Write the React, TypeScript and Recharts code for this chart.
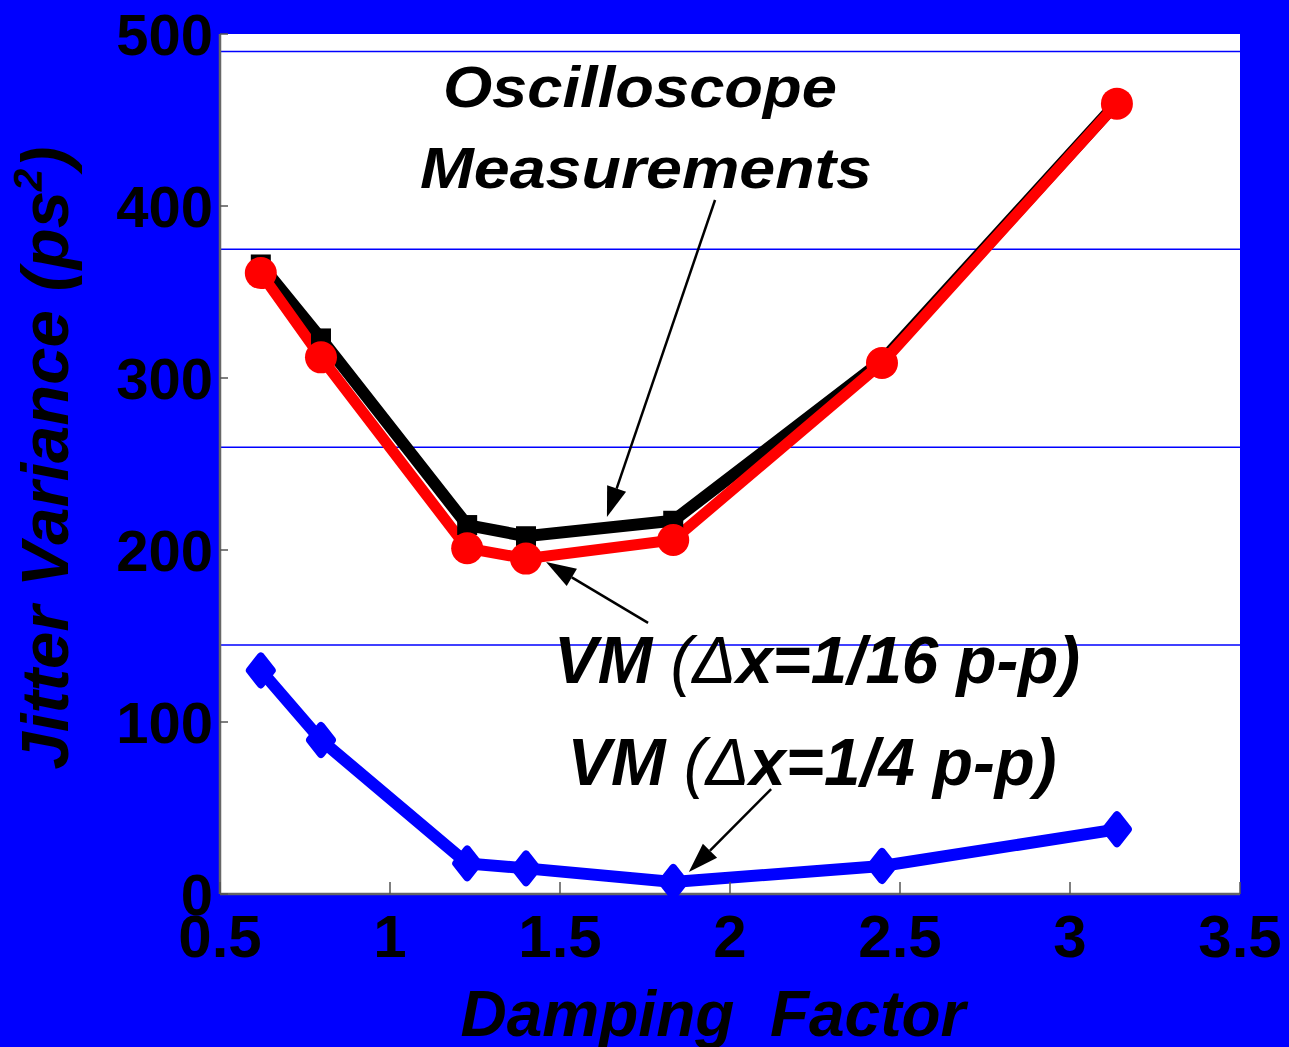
import React from "react";
import { LineChart, Line, XAxis, YAxis, CartesianGrid, ReferenceLine, ReferenceDot } from "recharts";

const dampingFactor = [0.62, 0.797, 1.227, 1.4, 1.833, 2.447, 3.138];
const oscilloscope = [366, 323, 214.5, 208, 217, 310, 460];
const vmFine = [361, 312, 201, 195, 205.8, 308.7, 459.5];
const vmCoarse = [130, 89.5, 17.8, 14.9, 7, 16.3, 37.6];

const xTicks = [0.5, 1, 1.5, 2, 2.5, 3, 3.5];
const yTicks = [0, 100, 200, 300, 400, 500];
const gridValues = [489.8, 374.8, 259.7, 144.8];

// annotation arrows, tail -> tip, in data units
const arrows = [
  { x1: 1.956, y1: 403.5, x2: 1.638, y2: 219.2 },
  { x1: 1.759, y1: 157.6, x2: 1.459, y2: 193.0 },
  { x1: 2.121, y1: 61.0, x2: 1.879, y2: 12.8 },
];

const notes = [
  { x: 1.735, y: 457.6, text: "Oscilloscope", size: 57, width: 394 },
  { x: 1.753, y: 410.5, text: "Measurements", size: 57, width: 452 },
  { x: 2.256, y: 122.7, text: "VM (\u0394x=1/16 p-p)", size: 66, width: 526 },
  { x: 2.241, y: 63.4, text: "VM (\u0394x=1/4 p-p)", size: 66, width: 489 },
];

const data = dampingFactor.map((x, i) => ({
  x,
  osc: oscilloscope[i],
  fine: vmFine[i],
  coarse: vmCoarse[i],
}));

const FONT = "'Liberation Sans', Arial, sans-serif";
const BLUE = "#0000ff";
const DELTA = "(\u0394";

function YTick(props: any) {
  const { x, y, payload } = props;
  const axisX = x + 7;
  return (
    <g>
      <line x1={axisX} y1={y} x2={axisX + 8} y2={y} stroke="#555" strokeWidth={1.5} />
      <text x={x} y={y} dy="0.36em" textAnchor="end" fontFamily={FONT} fontWeight="bold" fontSize={58} fill="#000">
        {payload.value}
      </text>
    </g>
  );
}

function XTick(props: any) {
  const { x, y, payload } = props;
  return (
    <g>
      <line x1={x} y1={y} x2={x} y2={y - 12} stroke="#555" strokeWidth={1.5} />
      <text x={x} y={y + 63} textAnchor="middle" fontFamily={FONT} fontWeight="bold" fontSize={60} fill="#000">
        {payload.value}
      </text>
    </g>
  );
}

function Arrow(props: any) {
  const { x1, y1, x2, y2 } = props;
  const ang = Math.atan2(y2 - y1, x2 - x1);
  const len = 30;
  const half = 10;
  const bx = x2 - len * Math.cos(ang);
  const by = y2 - len * Math.sin(ang);
  const px = -Math.sin(ang) * half;
  const py = Math.cos(ang) * half;
  return (
    <g>
      <line x1={x1} y1={y1} x2={bx} y2={by} stroke="#000" strokeWidth={2.5} />
      <polygon points={`${x2},${y2} ${bx + px},${by + py} ${bx - px},${by - py}`} fill="#000" />
    </g>
  );
}

function noteShape(n: (typeof notes)[number]) {
  return (props: any) => {
    const parts = n.text.split(DELTA);
    return (
      <text
        x={props.cx}
        y={props.cy}
        textAnchor="middle"
        fontFamily={FONT}
        fontWeight="bold"
        fontStyle="italic"
        fontSize={n.size}
        fill="#000"
        textLength={n.width}
        lengthAdjust="spacingAndGlyphs"
      >
        {parts.length > 1 ? (
          <>
            {parts[0]}
            <tspan fontWeight="normal">{DELTA}</tspan>
            {parts[1]}
          </>
        ) : (
          n.text
        )}
      </text>
    );
  };
}

function SquareDot(props: any) {
  const { cx, cy, index } = props;
  return <rect key={`s${index}`} x={cx - 10} y={cy - 10} width={20} height={20} fill="#000" />;
}

function CircleDot(props: any) {
  const { cx, cy, index } = props;
  return <circle key={`c${index}`} cx={cx} cy={cy} r={16} fill="#ff0000" />;
}

function DiamondDot(props: any) {
  const { cx, cy, index } = props;
  return (
    <polygon
      key={`d${index}`}
      points={`${cx},${cy - 14} ${cx + 11},${cy} ${cx},${cy + 14} ${cx - 11},${cy}`}
      fill={BLUE}
      stroke={BLUE}
      strokeWidth={8}
      strokeLinejoin="round"
    />
  );
}

export default function App() {
  return (
    <div style={{ position: "absolute", left: 0, top: 0, width: 1289, height: 1047, background: BLUE }}>
      <LineChart width={1289} height={1047} data={data} margin={{ top: 34, right: 49, bottom: 0, left: 0 }}>
        <CartesianGrid horizontal={false} vertical={false} fill="#ffffff" fillOpacity={1} />
        {gridValues.map((v) => (
          <ReferenceLine key={v} y={v} stroke={BLUE} strokeWidth={1.5} />
        ))}
        <XAxis
          type="number"
          dataKey="x"
          domain={[0.5, 3.5]}
          ticks={xTicks}
          interval={0}
          height={153}
          tickSize={0}
          tickMargin={0}
          tickLine={false}
          axisLine={{ stroke: "#666", strokeWidth: 2.5 }}
          tick={<XTick />}
          label={{
            content: (p: any) => {
              const vb = p.viewBox || { x: 220, y: 894, width: 1020 };
              return (
                <text
                  x={vb.x + vb.width / 2 - 17}
                  y={vb.y + 142}
                  textAnchor="middle"
                  fontFamily={FONT}
                  fontWeight="bold"
                  fontStyle="italic"
                  fontSize={64}
                  fill="#000"
                >
                  {"Damping\u00A0 Factor"}
                </text>
              );
            },
          }}
        />
        <YAxis
          type="number"
          domain={[0, 500]}
          ticks={yTicks}
          interval={0}
          width={220}
          tickSize={0}
          tickMargin={7}
          tickLine={false}
          axisLine={{ stroke: "#666", strokeWidth: 2.5 }}
          tick={<YTick />}
          label={{
            content: (p: any) => {
              const vb = p.viewBox || { y: 34, height: 860 };
              const cy = vb.y + vb.height / 2 - 6;
              return (
                <text
                  x={68}
                  y={cy}
                  transform={`rotate(-90, 68, ${cy})`}
                  textAnchor="middle"
                  fontFamily={FONT}
                  fontWeight="bold"
                  fontStyle="italic"
                  fontSize={67}
                  fill="#000"
                >
                  Jitter Variance (ps
                  <tspan fontSize={40} dy={-26}>
                    2
                  </tspan>
                  <tspan dy={26}>)</tspan>
                </text>
              );
            },
          }}
        />
        <Line
          type="linear"
          dataKey="osc"
          stroke="#000000"
          strokeWidth={12}
          dot={SquareDot}
          activeDot={false}
          isAnimationActive={false}
        />
        <Line
          type="linear"
          dataKey="fine"
          stroke="#ff0000"
          strokeWidth={11}
          dot={CircleDot}
          activeDot={false}
          isAnimationActive={false}
        />
        <Line
          type="linear"
          dataKey="coarse"
          stroke={BLUE}
          strokeWidth={12}
          dot={DiamondDot}
          activeDot={false}
          isAnimationActive={false}
        />
        {arrows.map((a, i) => (
          <ReferenceLine
            key={`a${i}`}
            segment={[
              { x: a.x1, y: a.y1 },
              { x: a.x2, y: a.y2 },
            ]}
            shape={Arrow}
          />
        ))}
        {notes.map((n) => (
          <ReferenceDot key={n.text} x={n.x} y={n.y} r={0} shape={noteShape(n)} />
        ))}
      </LineChart>
    </div>
  );
}
